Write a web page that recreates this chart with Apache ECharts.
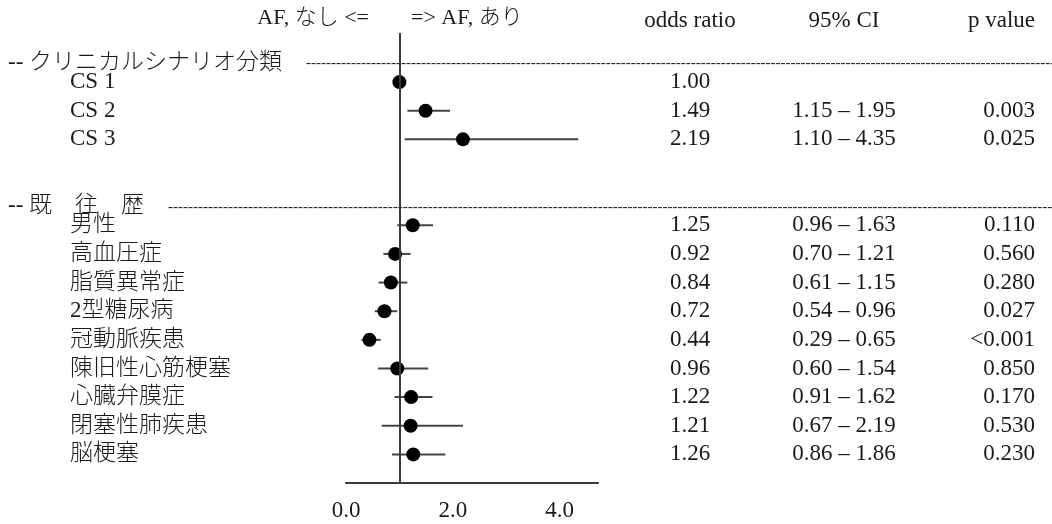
<!DOCTYPE html>
<html>
<head>
<meta charset="utf-8">
<script src="https://cdn.jsdelivr.net/npm/echarts@6/dist/echarts.min.js"></script>
<style>
  html, body { margin: 0; padding: 0; background: #fff; }
  #chart { width: 1052px; height: 524px; }
</style>
</head>
<body>
<div id="chart"></div>
<script>
// forest plot data
const groups = ['クリニカルシナリオ分類', '既　往　歴']
const itemGroup = [0, 0, 0, 1, 1, 1, 1, 1, 1, 1, 1, 1]
const items = ['CS 1', 'CS 2', 'CS 3', '男性', '高血圧症', '脂質異常症', '2型糖尿病', '冠動脈疾患', '陳旧性心筋梗塞', '心臓弁膜症', '閉塞性肺疾患', '脳梗塞']
const oddsRatio = [1.00, 1.49, 2.19, 1.25, 0.92, 0.84, 0.72, 0.44, 0.96, 1.22, 1.21, 1.26]
const ciLow = [null, 1.15, 1.10, 0.96, 0.70, 0.61, 0.54, 0.29, 0.60, 0.91, 0.67, 0.86]
const ciHigh = [null, 1.95, 4.35, 1.63, 1.21, 1.15, 0.96, 0.65, 1.54, 1.62, 2.19, 1.86]
const pValue = ['', '0.003', '0.025', '0.110', '0.560', '0.280', '0.027', '<0.001', '0.850', '0.170', '0.530', '0.230']
const columnTitles = ['odds ratio', '95% CI', 'p value']
const xTicks = [0, 2, 4]

const FONT = '"Liberation Serif", "Noto Sans CJK JP", serif'
const TEXT = '#1a1a1a'
const ROW_H = 28.64
const ROW0 = 24.8 // centre of the header row

// rows: title row, then per group an optional blank, a header and its items
const rows = [{ type: 'title' }]
const itemRow = []
groups.forEach((g, gi) => {
  if (gi > 0) rows.push({ type: 'blank' })
  rows.push({ type: 'header', name: g })
  items.forEach((name, i) => {
    if (itemGroup[i] !== gi) return
    itemRow[i] = rows.length
    rows.push({ type: 'item', idx: i })
  })
})
const rowIds = rows.map((r, i) => 'r' + i)

const dashes = '-'.repeat(240)
function colText(fn, title) {
  return function(v, i) {
    const r = rows[i]
    if (r.type === 'title') return '{top|' + title + '}'
    if (r.type === 'item') return fn(r.idx)
    return ''
  }
}

const scatterData = items.map((n, i) => [oddsRatio[i], itemRow[i]])
const ciData = []
items.forEach((n, i) => {
  if (ciLow[i] != null) ciData.push([ciLow[i], ciHigh[i], itemRow[i]])
})

const chart = echarts.init(document.getElementById('chart'))

const labelAxis = (extra) => Object.assign({
  type: 'category',
  gridIndex: 1,
  inverse: true,
  data: rowIds,
  axisLine: { show: false },
  axisTick: { show: false },
  splitLine: { show: false }
}, extra)

const topStyle = { fontFamily: FONT, fontSize: 23, color: TEXT, padding: [0, 0, 8, 0] }

chart.setOption({
  backgroundColor: '#fff',
  animation: false,
  textStyle: { fontFamily: FONT },
  title: [
    { text: 'AF, なし <=', right: 1052 - 369, top: 7, padding: 0,
      textStyle: { fontFamily: FONT, fontSize: 22, fontWeight: 300, color: TEXT } },
    { text: '=> AF, あり', left: 411, top: 7, padding: 0,
      textStyle: { fontFamily: FONT, fontSize: 22, fontWeight: 300, color: TEXT } }
  ],
  grid: [
    { left: 346, width: 252, top: 33, height: 450, outerBoundsMode: 'none' },
    { left: 0, right: 0, top: ROW0 - ROW_H / 2, height: rows.length * ROW_H, outerBoundsMode: 'none' }
  ],
  xAxis: [
    {
      type: 'value',
      gridIndex: 0,
      min: 0,
      max: 4.72,
      interval: 2,
      axisLine: { show: true, onZero: false, lineStyle: { color: '#3a3a3a', width: 2 } },
      axisTick: { show: false },
      splitLine: { show: false },
      axisLabel: {
        showMaxLabel: false,
        margin: 16,
        fontFamily: FONT,
        fontSize: 23,
        color: TEXT,
        formatter: v => (xTicks.indexOf(v) >= 0 ? v.toFixed(1) : '')
      }
    },
    { type: 'value', gridIndex: 1, min: 0, max: 1, show: false }
  ],
  yAxis: [
    {
      type: 'value',
      gridIndex: 0,
      inverse: true,
      min: (33 - ROW0) / ROW_H,
      max: (483 - ROW0) / ROW_H,
      show: false
    },
    // group headers with dashed rule
    labelAxis({
      position: 'left',
      axisLabel: {
        interval: 0,
        align: 'left',
        margin: -8,
        fontFamily: FONT,
        fontSize: 23,
        color: TEXT,
        formatter: (v, i) => rows[i].type === 'header'
          ? '{h|-- ' + rows[i].name + '}{d|' + dashes + '}' : '',
        rich: {
          h: { fontFamily: FONT, fontSize: 23, fontWeight: 300, color: TEXT, padding: [19, 0, 0, 0] },
          d: { fontFamily: FONT, fontSize: 15, color: '#222', padding: [20, 0, 0, 24] }
        }
      }
    }),
    // item names
    labelAxis({
      position: 'left',
      axisLabel: {
        interval: 0,
        align: 'left',
        margin: -70,
        fontFamily: FONT,
        fontSize: 23,
        fontWeight: 300,
        color: TEXT,
        formatter: (v, i) => rows[i].type === 'item' ? items[rows[i].idx] : ''
      }
    }),
    // odds ratio column
    labelAxis({
      position: 'right',
      axisLabel: {
        interval: 0,
        align: 'center',
        margin: 690 - 1052,
        fontFamily: FONT,
        fontSize: 23,
        color: TEXT,
        formatter: colText(i => oddsRatio[i].toFixed(2), columnTitles[0]),
        rich: { top: topStyle }
      }
    }),
    // CI column
    labelAxis({
      position: 'right',
      axisLabel: {
        interval: 0,
        align: 'center',
        margin: 844 - 1052,
        fontFamily: FONT,
        fontSize: 23,
        color: TEXT,
        formatter: colText(i => ciLow[i] == null ? '' : ciLow[i].toFixed(2) + ' – ' + ciHigh[i].toFixed(2), columnTitles[1]),
        rich: { top: topStyle }
      }
    }),
    // p value column
    labelAxis({
      position: 'right',
      axisLabel: {
        interval: 0,
        align: 'right',
        margin: 1035 - 1052,
        fontFamily: FONT,
        fontSize: 23,
        color: TEXT,
        formatter: colText(i => pValue[i], columnTitles[2]),
        rich: { top: topStyle }
      }
    })
  ],
  series: [
    {
      type: 'custom',
      xAxisIndex: 0,
      yAxisIndex: 0,
      encode: { x: [0, 1], y: 2 },
      data: ciData,
      renderItem: function(params, api) {
        const a = api.coord([api.value(0), api.value(2)])
        const b = api.coord([api.value(1), api.value(2)])
        return {
          type: 'line',
          shape: { x1: a[0], y1: a[1], x2: b[0], y2: b[1] },
          style: { stroke: '#444', lineWidth: 2 }
        }
      },
      z: 2
    },
    {
      type: 'scatter',
      xAxisIndex: 0,
      yAxisIndex: 0,
      data: scatterData,
      symbol: 'circle',
      symbolSize: 14,
      itemStyle: { color: '#000', opacity: 1 },
      z: 3,
      markLine: {
        silent: true,
        symbol: 'none',
        label: { show: false },
        lineStyle: { color: '#3a3a3a', width: 2, type: 'solid' },
        data: [{ xAxis: 1 }]
      }
    }
  ]
})
</script>
</body>
</html>
